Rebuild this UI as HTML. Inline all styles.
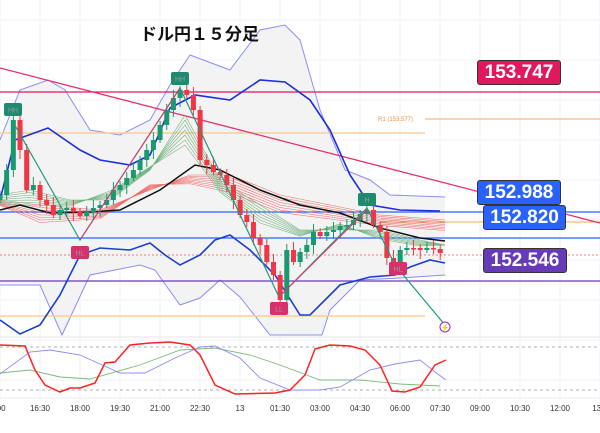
<!DOCTYPE html><html><head><meta charset="utf-8"><style>
body{margin:0;width:600px;height:433px;background:#fff;overflow:hidden;font-family:"Liberation Sans","Noto Sans CJK JP",sans-serif}
svg{position:absolute;left:0;top:0}
.lab{position:absolute;color:#fff;font-weight:bold;font-size:19px;line-height:23px;text-align:center;border-radius:3px;border:1px solid #333}
</style></head><body>
<svg id="s" width="600" height="433" viewBox="0 0 600 433"></svg>
<div class="lab" style="left:477px;top:60px;width:82px;background:#e0185d">153.747</div>
<div class="lab" style="left:477px;top:180px;width:82px;background:#2962ff">152.988</div>
<div class="lab" style="left:483px;top:205px;width:81px;background:#2962ff">152.820</div>
<div class="lab" style="left:483px;top:248px;width:82px;background:#673ab7">152.546</div>
<script>
const s=document.getElementById('s');let h='';
const P=a=>a.map(p=>p.join(',')).join(' ');
const pl=(a,c,w,e='')=>h+=`<polyline points="${P(a)}" fill="none" stroke="${c}" stroke-width="${w}" ${e}/>`;
const ln=(x1,y1,x2,y2,c,w,e='')=>h+=`<line x1="${x1}" y1="${y1}" x2="${x2}" y2="${y2}" stroke="${c}" stroke-width="${w}" ${e}/>`;
for(let x=0;x<=600;x+=40)ln(x,0,x,400,'#eef0f3',1);
for(let y=20;y<400;y+=40)ln(0,y,600,y,'#f2f3f5',1);
const up=[[0,140],[20,90],[48,80],[65,90],[90,130],[120,135],[150,120],[170,85],[190,55],[230,70],[260,30],[285,25],[300,40],[320,110],[345,170],[370,180],[390,195],[445,197]];
const lo=[[445,275],[400,278],[360,280],[330,310],[322,335],[270,335],[240,297],[220,280],[200,298],[180,305],[155,270],[140,265],[90,275],[62,335],[40,285],[0,285]];
h+=`<polygon points="${P(up.concat(lo))}" fill="#f3f3f4"/>`;
pl(up,'#8c8cf5',1);pl(lo,'#8c8cf5',1);
ln(0,133,425,133,'#fbcf9a',1.5);ln(425,119,600,119,'#f5a85a',1);
h+=`<text x="378" y="121" font-size="6" fill="#f09040">R1 (153.577)</text>`;
ln(0,316,425,316,'#fbcf9a',1.5);ln(380,222,600,222,'#f5a85a',1);
ln(0,92,600,92,'#e0185d',1.3);
ln(0,212,600,212,'#2962ff',1.3);ln(0,238,600,238,'#2962ff',1.3);
ln(0,281,600,281,'#673ab7',1.3);
ln(0,255,600,255,'#e55',0.8,'stroke-dasharray="2,2"');
ln(0,68,600,223,'#e8306a',1.3);
for(let i=0;i<8;i++){const d=i*2.5;pl([[0,200+d*.3],[40,205+d],[100,210+d*.5],[150,190-d*.3],[190,175+d*.5],[230,175+d],[280,195+d],[330,205+d*.8],[380,215+d*.6],[445,220+d*.6]],'#f26b6b',0.6);}
for(let i=0;i<7;i++){const d=i*5;pl([[0,195+d*.3],[30,190+d*.5],[70,200+d*.2],[110,200-d*.3],[150,170-d*.1],[185,115+d],[220,180+d*.4],[260,205+d*.6],[300,230+d*.2],[340,230-d*.2],[380,230+d*.3],[420,240+d*.2],[445,245]],'#6fb27a',0.6);}
pl([[0,210],[20,205],[50,213],[90,212],[120,210],[160,190],[195,165],[220,170],[260,190],[300,205],[340,213],[380,228],[420,238],[445,241]],'#111',1.5);
pl([[0,200],[15,140],[48,128],[80,150],[100,160],[130,165],[150,155],[170,108],[195,95],[230,100],[260,80],[285,82],[310,100],[330,130],[350,175],[370,205],[400,210],[440,211]],'#1a2fe0',1.6);
pl([[0,320],[20,334],[40,325],[60,295],[80,255],[100,248],[130,250],[150,243],[165,255],[180,265],[200,255],[215,240],[230,235],[250,250],[275,275],[300,315],[310,315],[340,285],[370,277],[395,275],[410,267],[430,260],[445,263]],'#1a3fd0',1.6);
const c=[195,170,120,150,190,185,200,205,215,210,208,212,216,212,208,205,200,190,185,178,170,160,150,140,125,110,98,90,95,110,160,165,172,175,185,200,215,222,238,245,262,275,300,250,262,252,245,232,236,232,230,226,225,220,214,210,225,232,258,262,250,248,248,250,248,249,253];
let prev=200;c.forEach((v,i)=>{const x=i*6.67,o=prev,up=v<o,col=up?'#1a9970':'#f23645';const t=Math.min(o,v)-4-(i%3)*2,b=Math.max(o,v)+3+(i%4)*2;ln(x,t,x,b,col,1);h+=`<rect x="${x-2.5}" y="${Math.min(o,v)}" width="5" height="${Math.max(1.5,Math.abs(v-o))}" fill="${col}"/>`;prev=v;});
pl([[13,122],[80,240],[180,88],[279,297],[367,208],[395,265],[445,325]],'#1f9a7e',1.2);
ln(80,240,180,88,'#e8306a',1);ln(279,297,367,210,'#e8306a',1);
const tag=(x,y,t,col)=>h+=`<rect x="${x-9}" y="${y}" width="18" height="13" rx="2" fill="${col}"/><text x="${x}" y="${y+9.5}" font-size="7" fill="#999" text-anchor="middle">${t}</text>`;
tag(13,103,'HH','#1f8a70');tag(180,72,'HH','#1f8a70');tag(367,193,'H','#1f8a70');
tag(279,302,'LL','#d8306a');tag(80,246,'HL','#d8306a');tag(398,262,'HL','#d8306a');
h+=`<circle cx="445" cy="327" r="5" fill="#fff" stroke="#9c27b0" stroke-width="1"/><text x="445" y="330" font-size="7" fill="#9c27b0" text-anchor="middle">⚡</text>`;
h+=`<text x="140" y="40" font-size="17" font-weight="bold" fill="#111" font-family="'Liberation Sans','Noto Sans CJK JP',sans-serif">ドル円１５分足</text>`;
ln(0,337,600,337,'#e6e6e6',1);
ln(0,347,600,347,'#999',0.8,'stroke-dasharray="3,3"');ln(0,390,600,390,'#999',0.8,'stroke-dasharray="3,3"');
pl([[0,373],[30,370],[60,377],[90,379],[140,365],[180,350],[215,348],[250,355],[280,365],[320,380],[360,380],[400,384],[440,386]],'#7cba7c',0.9);
pl([[0,374],[30,352],[50,350],[80,355],[120,373],[145,373],[175,358],[200,347],[215,346],[240,358],[260,378],[290,390],[320,390],[340,387],[370,370],[395,364],[420,360],[435,372],[446,380]],'#8c8cf5',0.9);
pl([[0,345],[25,346],[35,370],[45,385],[60,392],[70,388],[80,388],[95,383],[105,363],[115,362],[130,345],[150,343],[170,342],[190,345],[200,355],[215,385],[235,394],[275,393],[290,390],[305,375],[315,349],[330,345],[350,346],[365,350],[380,365],[392,391],[405,392],[420,387],[435,365],[446,360]],'#f22',1.5);
ln(0,398,600,398,'#eee',1);
const tl=[':00','16:30','18:00','19:30','21:00','22:30','13','01:30','03:00','04:30','06:00','07:30','09:00','10:30','12:00','13:3'];
tl.forEach((t,i)=>h+=`<text x="${i*40}" y="411" font-size="8" fill="#333" text-anchor="middle">${t}</text>`);
s.innerHTML=h;
</script></body></html>
